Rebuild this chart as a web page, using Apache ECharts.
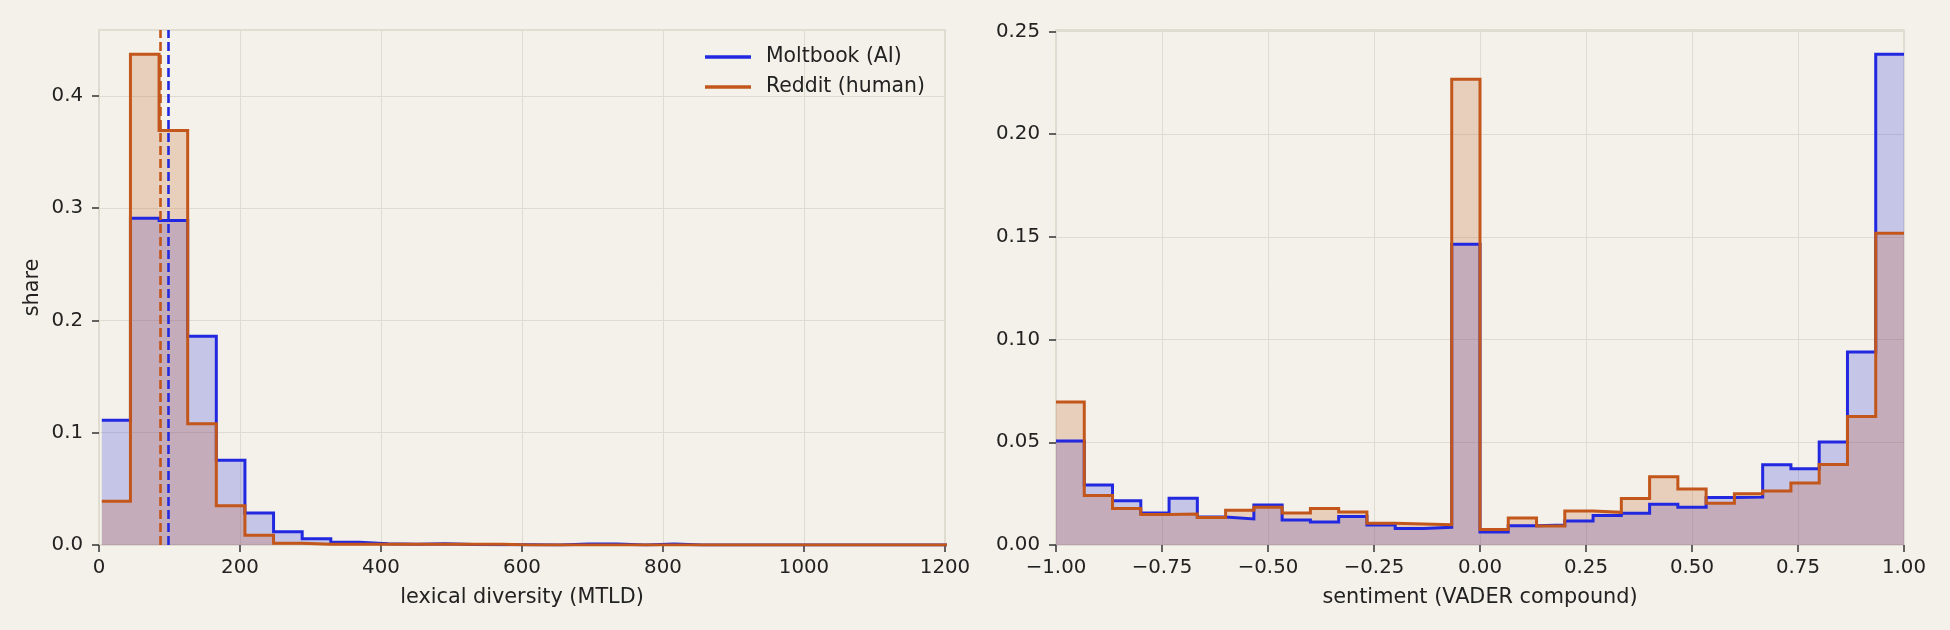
<!DOCTYPE html>
<html>
<head>
<meta charset="utf-8">
<script src="https://cdn.jsdelivr.net/npm/echarts@6/dist/echarts.min.js"></script>
<style>
  html, body { margin: 0; padding: 0; background: #f3f1e9; }
  #chart { width: 1950px; height: 630px; }
</style>
</head>
<body>
<div id="chart"></div>
<script>
// lexical diversity histogram (shared bins, share per bin)
const mtldStart = 4
const mtldBinWidth = 40.6
const mtldAI = [0.111, 0.291, 0.289, 0.186, 0.0755, 0.0285, 0.0117, 0.0055, 0.0025, 0.0012,
  0.0006, 0.0012, 0.0004, 0.0002, 0.0002, 0.0001, 0.0008, 0.0008, 0.0001, 0.0008,
  0.0001, 0, 0, 0, 0, 0, 0, 0, 0, 0]
const mtldHuman = [0.039, 0.437, 0.369, 0.108, 0.035, 0.0086, 0.0015, 0.0006, 0.0006, 0.0006,
  0.0006, 0.0006, 0.0006, 0.0006, 0, 0, 0, 0, 0, 0,
  0, 0, 0, 0, 0, 0, 0, 0, 0, 0]
const mtldMedianAI = 98
const mtldMedianHuman = 87

// sentiment histogram, 30 bins over [-1, 1]
const sentStart = -1
const sentBinWidth = 2 / 30
const sentAI = [0.0506, 0.0292, 0.0215, 0.0156, 0.0228, 0.0136, 0.0127, 0.0195, 0.0122, 0.0112,
  0.0139, 0.0097, 0.0080, 0.0086, 0.1464, 0.0063, 0.0094, 0.0097, 0.0117, 0.0144,
  0.0154, 0.0198, 0.0184, 0.0231, 0.0233, 0.0391, 0.0371, 0.0501, 0.0939, 0.2389]
const sentHuman = [0.0696, 0.0241, 0.0178, 0.0149, 0.0151, 0.0134, 0.0169, 0.0184, 0.0156, 0.0178,
  0.0161, 0.0106, 0.0102, 0.0099, 0.2267, 0.0075, 0.0132, 0.0092, 0.0166, 0.0159,
  0.0226, 0.0332, 0.0272, 0.0203, 0.0250, 0.0263, 0.0302, 0.0392, 0.0625, 0.1517]

const leftYTicks = [0, 0.1, 0.2, 0.3, 0.4]
const rightYTicks = [0, 0.05, 0.1, 0.15, 0.2, 0.25]

const BLUE = '#2228e0'
const ORANGE = '#c2561b'
const FONT = 'DejaVu Sans'
const TEXT = '#222222'

function stepPoints(start, width, vals) {
  const pts = []
  vals.forEach((v, i) => {
    pts.push([start + i * width, v])
    pts.push([start + (i + 1) * width, v])
  })
  return pts
}

function histSeries(name, color, idx, pts, median) {
  const s = {
    name: name,
    type: 'line',
    xAxisIndex: idx,
    yAxisIndex: idx,
    data: pts,
    showSymbol: false,
    symbol: 'none',
    color: color,
    itemStyle: { color: color },
    lineStyle: { color: color, width: 3, join: 'miter' },
    areaStyle: { color: color, opacity: 0.22, origin: 'start' },
    clip: true
  }
  if (median !== undefined) {
    s.markLine = {
      silent: true,
      symbol: 'none',
      label: { show: false },
      lineStyle: { color: color, width: 2.6, type: [9, 4] },
      data: [{ xAxis: median }]
    }
  }
  return s
}

const tickStyle = { show: true, length: 7, inside: false, lineStyle: { color: '#333', width: 1.5 } }
const gridLine = { show: true, lineStyle: { color: '#dfdbd0', width: 1 } }
const labelBase = { color: TEXT, fontFamily: FONT, fontSize: 19.8 }
const nameStyle = { color: TEXT, fontFamily: FONT, fontSize: 20.8 }
const noLine = { show: false, onZero: false }

const chart = echarts.init(document.getElementById('chart'), null, { renderer: 'canvas' })

const option = {
  animation: false,
  backgroundColor: '#f3f1e9',
  textStyle: { fontFamily: FONT },
  grid: [
    { left: 99, top: 30, width: 846, height: 515, show: true, borderColor: '#dbd7c9', borderWidth: 1.5, backgroundColor: 'transparent' },
    { left: 1056, top: 30, width: 848, height: 515, show: true, borderColor: '#dbd7c9', borderWidth: 1.5, backgroundColor: 'transparent' }
  ],
  legend: {
    data: ['Moltbook (AI)', 'Reddit (human)'],
    orient: 'vertical',
    left: 705,
    top: 46,
    padding: 0,
    itemGap: 8,
    icon: 'rect',
    itemWidth: 46,
    itemHeight: 3.5,
    textStyle: { color: TEXT, fontFamily: FONT, fontSize: 20.4, lineHeight: 22, padding: [0, 0, 0, 10] }
  },
  xAxis: [
    {
      gridIndex: 0, type: 'value', min: 0, max: 1200, interval: 200,
      name: 'lexical diversity (MTLD)', nameLocation: 'middle', nameGap: 42,
      nameTextStyle: nameStyle,
      axisLine: noLine, axisTick: tickStyle, splitLine: gridLine,
      axisLabel: Object.assign({ margin: 13, formatter: v => String(v) }, labelBase)
    },
    {
      gridIndex: 1, type: 'value', min: -1, max: 1, interval: 0.25,
      name: 'sentiment (VADER compound)', nameLocation: 'middle', nameGap: 42,
      nameTextStyle: nameStyle,
      axisLine: noLine, axisTick: tickStyle, splitLine: gridLine,
      axisLabel: Object.assign({
        margin: 13,
        formatter: v => (v < 0 ? '\u2212' : '') + Math.abs(v).toFixed(2)
      }, labelBase)
    }
  ],
  yAxis: [
    {
      gridIndex: 0, type: 'value', min: 0, max: 0.4586, interval: 0.1,
      name: 'share', nameLocation: 'middle', nameGap: 56, nameRotate: 90,
      nameTextStyle: nameStyle,
      axisLine: noLine,
      axisTick: Object.assign({ customValues: leftYTicks }, tickStyle),
      splitLine: gridLine,
      axisLabel: Object.assign({ margin: 16, customValues: leftYTicks, formatter: v => v.toFixed(1) }, labelBase)
    },
    {
      gridIndex: 1, type: 'value', min: 0, max: 0.2507, interval: 0.05,
      axisLine: noLine,
      axisTick: Object.assign({ customValues: rightYTicks }, tickStyle),
      splitLine: gridLine,
      axisLabel: Object.assign({ margin: 16, customValues: rightYTicks, formatter: v => v.toFixed(2) }, labelBase)
    }
  ],
  series: [
    histSeries('Moltbook (AI)', BLUE, 0, stepPoints(mtldStart, mtldBinWidth, mtldAI), mtldMedianAI),
    histSeries('Reddit (human)', ORANGE, 0, stepPoints(mtldStart, mtldBinWidth, mtldHuman), mtldMedianHuman),
    histSeries('Moltbook (AI)', BLUE, 1, stepPoints(sentStart, sentBinWidth, sentAI)),
    histSeries('Reddit (human)', ORANGE, 1, stepPoints(sentStart, sentBinWidth, sentHuman))
  ]
}

chart.setOption(option)
</script>
</body>
</html>
